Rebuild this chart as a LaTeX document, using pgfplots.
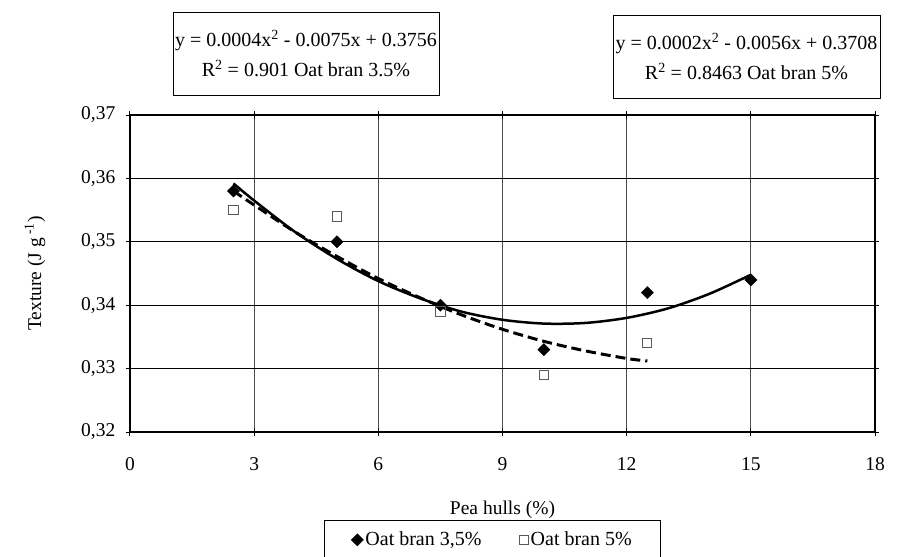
\documentclass[border=0pt]{standalone}
\usepackage{fontspec}
\setmainfont{Liberation Serif}
\usepackage{pgfplots}
\pgfplotsset{compat=1.18}
\begin{document}
\fontsize{19.5bp}{30bp}\selectfont
\begin{tikzpicture}
\useasboundingbox (-130bp,-125bp) rectangle (773bp,432bp);
\begin{axis}[
  at={(0,0)}, anchor=south west,
  scale only axis, width=745bp, height=317bp,
  xmin=0, xmax=18, ymin=0.32, ymax=0.37,
  xtick={0,3,...,18}, ytick={0.32,0.33,...,0.37},
  /pgf/number format/assume math mode=true,
  yticklabel style={/pgf/number format/fixed, /pgf/number format/fixed zerofill, /pgf/number format/precision=2, /pgf/number format/use comma, xshift=-4bp},
  scaled y ticks=false,
  tick align=center, major tick length=8bp,
  tick style={black, line width=1bp},
  axis line style={black, line width=1.3bp},
  grid=major,
  x grid style={gray!60!black, line width=0.8bp},
  y grid style={black, line width=0.8bp},
  xticklabel style={yshift=-15bp},
  xlabel={Pea hulls (\%)},
  ylabel={Texture (J g\textsuperscript{ -1})},
  every axis x label/.style={at={(axis description cs:0.5,-0.245)}, anchor=center},
  every axis y label/.style={at={(axis description cs:-0.1275,0.5)}, anchor=center, rotate=90},
  legend columns=2,
  legend style={at={(axis description cs:0.4866,-0.2776)}, anchor=north, draw=black, line width=0.8bp,
    inner xsep=27bp, inner ysep=9bp, font=\fontsize{20bp}{24bp}\selectfont,
    /tikz/every even column/.append style={column sep=36bp}},
  legend image code/.code={\draw[mark repeat=2,mark phase=2] plot coordinates {(0bp,0bp)(6bp,0bp)(12bp,0bp)};},
]
\addplot[only marks, mark=square*, mark size=4.3bp, mark options={rotate=45, fill=black, draw=black, line width=0.4bp}]
  coordinates {(2.5,0.358)(5,0.350)(7.5,0.340)(10,0.333)(12.5,0.342)(15,0.344)};
\addlegendentry{Oat bran 3,5\%}
\addplot[only marks, mark=square, mark size=4.6bp, mark options={draw=black!65, fill=white, line width=1bp}]
  coordinates {(2.5,0.355)(5,0.354)(7.5,0.339)(10,0.329)(12.5,0.334)};
\addlegendentry{Oat bran 5\%}
\addplot[black, line width=2.5bp, smooth, forget plot]
  coordinates {(2.5,0.3592)(3,0.3565)(4,0.3515)(5,0.3473)(6,0.3438)(7,0.3411)(8,0.3390)(9,0.3377)(10,0.3371)(11,0.3372)(12,0.3380)(13,0.3395)(14,0.3418)(15,0.3448)};
\addplot[black, line width=3bp, dash pattern=on 10bp off 5bp, smooth, forget plot]
  coordinates {(2.5,0.3580)(3,0.3558)(4,0.3515)(5,0.3477)(6,0.3442)(7,0.3412)(8,0.3385)(9,0.3362)(10,0.3343)(11,0.3328)(12,0.3316)(12.5,0.3312)};
\end{axis}
\node[draw=black, line width=0.9bp, minimum width=266bp, minimum height=83bp, align=center, inner sep=0pt, font=\fontsize{20bp}{30bp}\selectfont] at (176bp,378.5bp)
  {y = 0.0004x\textsuperscript{2} - 0.0075x + 0.3756\\R\textsuperscript{2} = 0.901 Oat bran 3.5\%};
\node[draw=black, line width=0.9bp, minimum width=267bp, minimum height=83bp, align=center, inner sep=0pt, font=\fontsize{20bp}{30bp}\selectfont] at (616.5bp,375.5bp)
  {y = 0.0002x\textsuperscript{2} - 0.0056x + 0.3708\\R\textsuperscript{2} = 0.8463 Oat bran 5\%};
\end{tikzpicture}
\end{document}
